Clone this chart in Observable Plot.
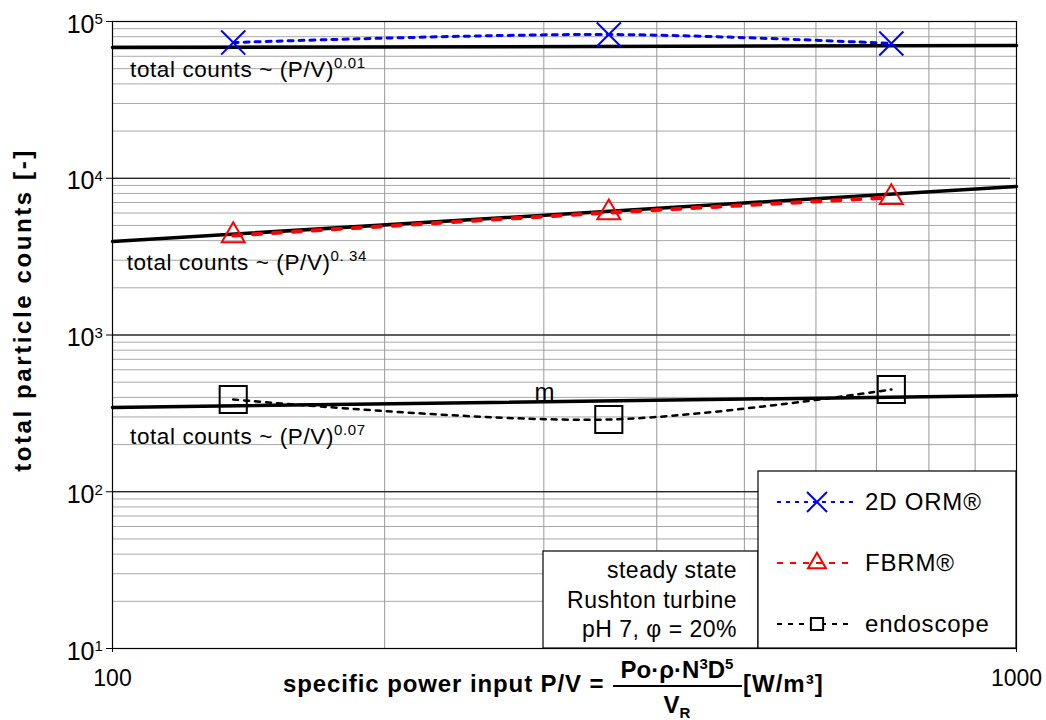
<!DOCTYPE html>
<html><head><meta charset="utf-8">
<script src="https://cdn.jsdelivr.net/npm/d3@7"></script>
<script src="https://cdn.jsdelivr.net/npm/@observablehq/plot@0.6"></script>
<style>body{margin:0;background:#fff} svg{display:block}</style>
</head><body><div id="chart"></div>
<script>
// ---- data ----
const powerInput = [136, 354, 727];          // P/V [W/m³]
const orm2d      = [73400, 82600, 72400];    // 2D ORM® counts
const fbrm       = [4310, 6030, 7540];       // FBRM® counts
const endoscope  = [388, 289, 449];          // endoscope counts
const fitX       = [100, 1000];
const fitOrm     = [68200, 70300];           // ~ (P/V)^0.01
const fitFbrm    = [3950, 8860];             // ~ (P/V)^0.34
const fitEndo    = [345, 411];               // ~ (P/V)^0.07
const fitExponents = ["0.01", "0. 34", "0.07"];
const fitLabelX  = [104.7, 103.8, 104.7];
const fitLabelY  = [43950, 2579, 200];
const xTickLabels = [100, 1000];
const xGrid = [200, 300, 400, 500, 600, 700, 800, 900];
const yMajor = [10, 100, 1000, 10000, 100000];
const yExponents = ["1", "2", "3", "4", "5"];
const yMinor = [20,30,40,50,60,70,80,90,200,300,400,500,600,700,800,900,
  2000,3000,4000,5000,6000,7000,8000,9000,20000,30000,40000,50000,60000,70000,80000,90000];
const seriesNames = ["2D ORM®", "FBRM®", "endoscope"];
const seriesColors = ["#0000ff", "#ff0000", "#000000"];
const infoLines = ["steady state", "Rushton turbine", "pH 7, φ = 20%"];

const FONT = "'Liberation Sans', Arial, Helvetica, sans-serif";
const rows = (ys) => powerInput.map((x, i) => ({x, y: ys[i]}));
const fitRows = (ys) => fitX.map((x, i) => ({x, y: ys[i]}));

const plot = Plot.plot({
  width: 1046, height: 720,
  marginLeft: 112, marginRight: 30, marginTop: 21, marginBottom: 72,
  style: {fontFamily: FONT, background: "#fff", overflow: "visible"},
  x: {type: "log", domain: [100, 1000], axis: null},
  y: {type: "log", domain: [10, 100000], axis: null},
  marks: [
    Plot.ruleY(yMinor, {stroke: "#a8a8a8", strokeWidth: 1, strokeOpacity: 1}),
    Plot.ruleY(yMajor, {stroke: "#808080", strokeWidth: 1, strokeOpacity: 1}),
    Plot.ruleX(xGrid, {stroke: "#999", strokeWidth: 1, strokeOpacity: 1}),
    Plot.frame({stroke: "#000", strokeWidth: 1.2}),
    // axis ticks
    Plot.tickX(xTickLabels, {x: d => d, frameAnchor: "bottom", stroke: "#000", dy: 4, insetTop: 0}),
    Plot.text(xTickLabels, {x: d => d, frameAnchor: "bottom", dy: 37, fontSize: 23, text: d => String(d), fill: "#000"}),
    Plot.tickY(yMajor, {y: d => d, frameAnchor: "left", stroke: "#000", dx: -6}),
    Plot.text(yMajor, {y: d => d, frameAnchor: "left", dx: -18, dy: 3, textAnchor: "end", fontSize: 25, text: () => "10", fill: "#000"}),
    Plot.text(yMajor, {y: d => d, frameAnchor: "left", dx: -18, dy: -2, textAnchor: "start", fontSize: 15, text: (d, i) => yExponents[i], fill: "#000"}),
    // fit lines
    Plot.line(fitRows(fitOrm), {x: "x", y: "y", stroke: "#000", strokeWidth: 3.5}),
    Plot.line(fitRows(fitFbrm), {x: "x", y: "y", stroke: "#000", strokeWidth: 3.5}),
    Plot.line(fitRows(fitEndo), {x: "x", y: "y", stroke: "#000", strokeWidth: 3.5}),
    // measured series
    Plot.line(rows(orm2d), {x: "x", y: "y", stroke: seriesColors[0], strokeWidth: 3, strokeDasharray: "5 6", curve: "catmull-rom"}),
    Plot.line(rows(fbrm), {x: "x", y: "y", stroke: seriesColors[1], strokeWidth: 4, strokeDasharray: "8 12", curve: "catmull-rom"}),
    Plot.line(rows(endoscope), {x: "x", y: "y", stroke: seriesColors[2], strokeWidth: 2.5, strokeDasharray: "5 6", curve: "catmull-rom"}),
    Plot.dot(rows(orm2d), {x: "x", y: "y", symbol: "times", r: 11, stroke: seriesColors[0], strokeWidth: 2}),
    Plot.dot(rows(fbrm), {x: "x", y: "y", symbol: "triangle", r: 8.5, stroke: seriesColors[1], strokeWidth: 2, fill: "none"}),
    Plot.dot(rows(endoscope), {x: "x", y: "y", symbol: "square", r: 15.3, stroke: seriesColors[2], strokeWidth: 2, fill: "none"})
  ]
});
document.getElementById("chart").appendChild(plot);

const sx = plot.scale("x"), sy = plot.scale("y");
const svg = d3.select(plot);
const X = v => sx.apply(v), Y = v => sy.apply(v);
const x0 = X(100), x1 = X(1000), y0 = Y(10), yTop = Y(100000);

// fit labels
const fl = svg.append("g").attr("font-family", FONT).attr("fill", "#000").attr("text-anchor", "start");
fitExponents.forEach((e, i) => {
  const t = fl.append("text").attr("x", X(fitLabelX[i])).attr("y", Y(fitLabelY[i]))
    .attr("font-size", 22.5).attr("letter-spacing", 0.6);
  t.append("tspan").text("total counts ~ (P/V)");
  t.append("tspan").attr("font-size", 15).attr("dy", -9).text(e);
});
// stray "m" label
fl.append("text").attr("x", X(301)).attr("y", Y(Math.pow(10, 5 - (400 - 21) / 156.75)))
  .attr("text-anchor", "middle").attr("font-size", 24).text("m");

// info box
const ib = svg.append("g").attr("font-family", FONT);
const boxL = x0 + 431, boxM = x0 + 646;
ib.append("rect").attr("x", boxL).attr("y", y0 - 97).attr("width", boxM - boxL).attr("height", 97)
  .attr("fill", "#fff").attr("stroke", "#000").attr("stroke-width", 1.2);
infoLines.forEach((s, i) => {
  ib.append("text").attr("x", boxM - 21).attr("y", y0 - 70 + i * 29.5).attr("text-anchor", "end")
    .attr("font-size", 23).attr("letter-spacing", 0.5).attr("fill", "#000").text(s);
});

// legend
const lg = svg.append("g").attr("font-family", FONT).attr("text-anchor", "start");
lg.append("rect").attr("x", boxM).attr("y", y0 - 177).attr("width", x1 - boxM).attr("height", 177)
  .attr("fill", "#fff").attr("stroke", "#000").attr("stroke-width", 1.2);
const legendSym = [d3.symbolTimes, d3.symbolTriangle2, d3.symbolSquare2];
const legendSize = [260, 230, 190];
const dash = ["4 5", "6 7", "5 6"];
seriesNames.forEach((n, i) => {
  const cy = y0 - 146 + i * 61;
  lg.append("line").attr("x1", boxM + 19).attr("x2", boxM + 95).attr("y1", cy).attr("y2", cy)
    .attr("stroke", seriesColors[i]).attr("stroke-width", 2.2).attr("stroke-dasharray", dash[i]);
  lg.append("path").attr("d", d3.symbol(legendSym[i], legendSize[i])())
    .attr("transform", `translate(${boxM + 59},${cy})`)
    .attr("fill", i === 2 ? "#fff" : "none").attr("stroke", seriesColors[i]).attr("stroke-width", 2);
  lg.append("text").attr("x", boxM + 107).attr("y", cy + 8).attr("font-size", 24)
    .attr("letter-spacing", 0.8).attr("fill", "#000").text(n);
});

// x-axis title with formula
const xt = svg.append("g").attr("font-family", FONT).attr("font-weight", "bold").attr("fill", "#000");
xt.append("text").attr("x", 283).attr("y", 692).attr("text-anchor", "start").attr("font-size", 24).attr("letter-spacing", 0.9)
  .text("specific power input P/V =");
const num = xt.append("text").attr("x", 677).attr("y", 678).attr("text-anchor", "middle").attr("font-size", 24);
num.append("tspan").text("Po·ρ·N");
num.append("tspan").attr("font-size", 15).attr("dy", -9).text("3");
num.append("tspan").attr("dy", 9).text("D");
num.append("tspan").attr("font-size", 15).attr("dy", -9).text("5");
xt.append("line").attr("x1", 613).attr("x2", 742).attr("y1", 686).attr("y2", 686)
  .attr("stroke", "#000").attr("stroke-width", 2);
const den = xt.append("text").attr("x", 677).attr("y", 713).attr("text-anchor", "middle").attr("font-size", 24);
den.append("tspan").text("V");
den.append("tspan").attr("font-size", 15).attr("dy", 5).text("R");
xt.append("text").attr("x", 743).attr("y", 692).attr("text-anchor", "start").attr("font-size", 24).attr("letter-spacing", 1).text("[W/m³]");

// y-axis title
svg.append("text").attr("transform", `translate(31,310) rotate(-90)`)
  .attr("text-anchor", "middle").attr("font-family", FONT).attr("font-weight", "bold")
  .attr("font-size", 24).attr("letter-spacing", 2.6).attr("fill", "#000").text("total particle counts [-]");
</script></body></html>
